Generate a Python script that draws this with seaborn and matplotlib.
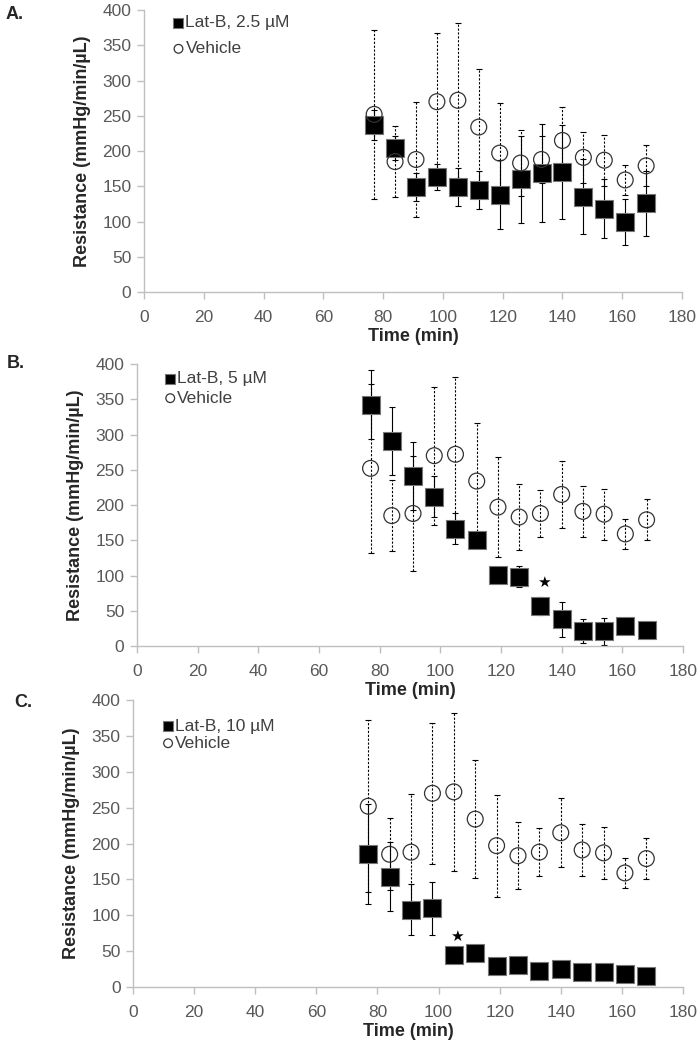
import numpy as np
import pandas as pd
import matplotlib
matplotlib.use('Agg')
import matplotlib.pyplot as plt
import seaborn as sns

# time points (min)
time = [77, 84, 91, 98, 105, 112, 119, 126, 133, 140, 147, 154, 161, 168]

# vehicle (same control in every panel)
vehicle = [252, 185, 188, 270, 272, 234, 197, 183, 188, 215, 191, 187, 159, 179]
vehicle_err = [120, 50, 81, 98, 110, 82, 71, 47, 33, 48, 36, 36, 21, 29]

# Lat-B doses
latb_25 = [237, 204, 149, 163, 149, 145, 138, 160, 169, 170, 135, 118, 99, 126]
latb_25_err = [21, 17, 20, 18, 27, 27, 49, 62, 70, 67, 53, 42, 33, 46]

latb_5 = [342, 291, 241, 212, 166, 151, 101, 98, 57, 38, 21, 21, 29, 23]
latb_5_err = [49, 48, 48, 29, 22, 6, 6, 15, 13, 25, 17, 19, 3, 3]

latb_10 = [185, 154, 108, 110, 44, 47, 29, 31, 23, 25, 21, 21, 18, 16]
latb_10_err = [70, 48, 35, 37, 3, 3, 3, 3, 3, 3, 3, 3, 3, 3]

panel_letters = ['A.', 'B.', 'C.']
latb_labels = ['Lat-B, 2.5 µM', 'Lat-B, 5 µM', 'Lat-B, 10 µM']
latb_values = [latb_25, latb_5, latb_10]
latb_errors = [latb_25_err, latb_5_err, latb_10_err]
# significance stars (time, y) per panel
stars = [None, (134, 89), (106, 70)]

sns.set_style('white')
plt.rcParams['font.family'] = ['Liberation Sans', 'DejaVu Sans']

fig = plt.figure(figsize=(7, 10.47), dpi=100)

# axes positions (figure fractions)
positions = [
    [0.2057, 0.7211, 0.7686, 0.2693],
    [0.1957, 0.3830, 0.7800, 0.2693],
    [0.1900, 0.0573, 0.7857, 0.2741],
]
letter_pos = [(0.008, 0.986), (0.010, 0.653), (0.021, 0.329)]
legend_anchor = [(0.048, 0.982), (0.045, 0.975), (0.048, 0.936)]
legend_spacing = [0.63, 0.25, 0.12]

grey = '#bfbfbf'
tick_txt = '#595959'

for i in range(3):
    ax = fig.add_axes(positions[i])
    df = pd.DataFrame({'time': time, 'latb': latb_values[i], 'latb_err': latb_errors[i],
                       'vehicle': vehicle, 'vehicle_err': vehicle_err})

    # error bars
    ax.errorbar(df['time'], df['latb'], yerr=df['latb_err'], fmt='none',
                ecolor='black', elinewidth=0.8, capsize=2.5, capthick=0.8, zorder=2)
    eb = ax.errorbar(df['time'], df['vehicle'], yerr=df['vehicle_err'], fmt='none',
                     ecolor='black', elinewidth=0.8, capsize=2.5, capthick=0.8, zorder=2)
    eb[2][0].set_linestyle((0, (2, 1.5)))

    sns.scatterplot(data=df, x='time', y='latb', marker='s', s=150, color='black',
                    edgecolor='#777777', linewidth=0.8, label=latb_labels[i], ax=ax, zorder=3)
    sns.scatterplot(data=df, x='time', y='vehicle', marker='o', s=130, facecolor='none',
                    edgecolor='#333333', linewidth=0.9, label='Vehicle', ax=ax, zorder=4)

    if stars[i] is not None:
        ax.text(stars[i][0], stars[i][1], '★', ha='center', va='center', fontsize=11,
                color='black')

    ax.set_xlim(0, 180)
    ax.set_ylim(0, 400)
    ax.set_xticks(np.arange(0, 181, 20))
    ax.set_yticks(np.arange(0, 401, 50))
    ax.tick_params(axis='both', labelsize=12.5, colors=grey, labelcolor=tick_txt,
                   length=5, width=1, direction='out', left=True, bottom=True)
    ax.tick_params(axis='x', pad=8)
    ax.tick_params(axis='y', pad=4)
    for side in ['top', 'right']:
        ax.spines[side].set_visible(False)
    for side in ['left', 'bottom']:
        ax.spines[side].set_color(grey)
        ax.spines[side].set_linewidth(1)

    ax.set_xlabel('Time (min)', fontsize=13, fontweight='bold', labelpad=2)
    ax.set_ylabel('Resistance (mmHg/min/µL)', fontsize=13, fontweight='bold', labelpad=8)

    # small legend markers like the reference
    leg = ax.legend(loc='upper left', bbox_to_anchor=legend_anchor[i], frameon=False,
                    fontsize=12.5, handletextpad=-0.1, labelspacing=legend_spacing[i],
                    borderaxespad=0, borderpad=0, markerscale=0.55, handlelength=1.0)
    for t in leg.get_texts():
        t.set_color('#404040')

    fig.text(letter_pos[i][0], letter_pos[i][1], panel_letters[i], fontsize=13,
             fontweight='bold', va='center', ha='left')

fig.savefig('out.png', dpi=100)
